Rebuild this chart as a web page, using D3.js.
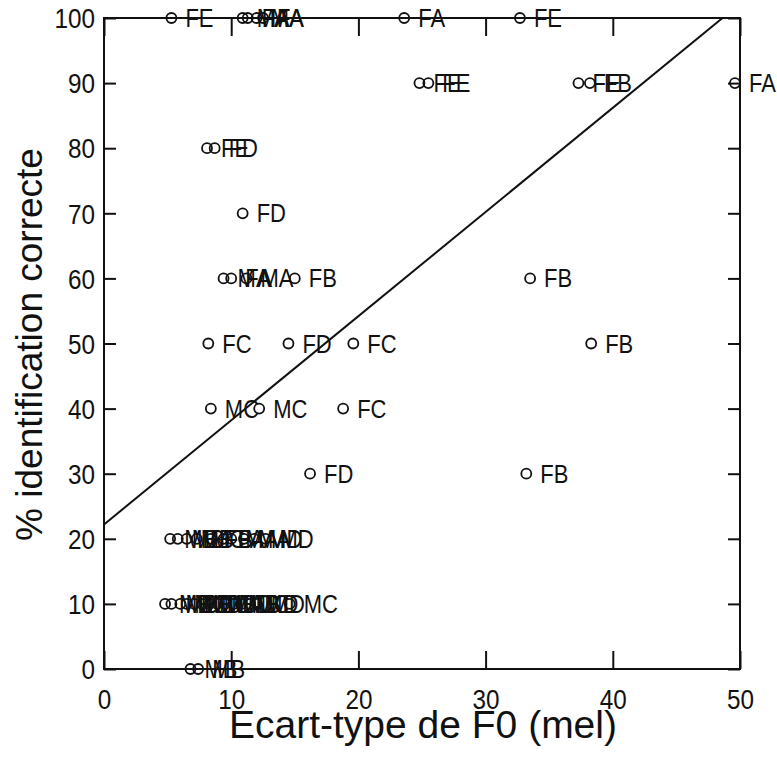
<!DOCTYPE html>
<html><head><meta charset="utf-8">
<script src="https://cdn.jsdelivr.net/npm/d3@7"></script>
<style>body{margin:0;background:#fff}text{font-family:"Liberation Sans",Arial,sans-serif;fill:#111}</style>
</head><body><svg id="c" width="777" height="759"></svg>
<script>
// data
const pointX = [5.3, 10.9, 11.3, 12.0, 12.5, 23.6, 32.7,
  24.8, 25.5, 37.3, 38.2, 49.6,
  8.1, 8.7,
  10.9,
  9.4, 10.0, 11.2, 15.0, 33.5,
  8.2, 14.5, 19.6, 38.3,
  8.4, 12.2, 18.8,
  16.2, 33.2,
  5.2, 5.8, 6.5, 7.3, 8.4, 9.4, 10.0, 11.0, 11.8, 12.7,
  4.8, 5.3, 6.0, 6.5, 7.1, 7.7, 8.3, 8.9, 9.5, 10.2, 10.8, 11.5, 12.0, 14.6,
  6.8, 7.4];
const pointY = [100, 100, 100, 100, 100, 100, 100,
  90, 90, 90, 90, 90,
  80, 80,
  70,
  60, 60, 60, 60, 60,
  50, 50, 50, 50,
  40, 40, 40,
  30, 30,
  20, 20, 20, 20, 20, 20, 20, 20, 20, 20,
  10, 10, 10, 10, 10, 10, 10, 10, 10, 10, 10, 10, 10, 10,
  0, 0];
const pointLabel = ["FE", "MA", "FA", "MA", "FA", "FA", "FE",
  "FE", "FE", "FE", "FB", "FA",
  "FE", "FD",
  "FD",
  "MA", "FA", "MA", "FB", "FB",
  "FC", "FD", "FC", "FB",
  "MC", "MC", "FC",
  "FD", "FB",
  "MB", "MB", "MB", "MC", "FB", "FA", "MA", "MA", "MD", "MD",
  "MB", "MB", "MC", "MB", "MD", "MC", "MB", "MA", "MD", "MB", "MC", "MD", "MD", "MC",
  "MB", "MB"];
const xTicks = [0, 10, 20, 30, 40, 50];
const yTicks = [0, 10, 20, 30, 40, 50, 60, 70, 80, 90, 100];
const regIntercept = 22.2, regSlope = 1.6;
const xTitle = "Ecart-type de F0 (mel)";
const yTitle = "% identification correcte";

const svg = d3.select("#c");
const L = 104, R = 740, T = 18, B = 669;
const x = d3.scaleLinear().domain([0, 50]).range([L, R]);
const y = d3.scaleLinear().domain([0, 100]).range([B, T]);

// frame
svg.append("rect").attr("x", L).attr("y", T).attr("width", R - L).attr("height", B - T)
  .attr("fill", "none").attr("stroke", "#111").attr("stroke-width", 2);

// axes with inward ticks
const gB = svg.append("g").attr("transform", `translate(0,${B})`)
  .call(d3.axisBottom(x).tickValues(xTicks).tickSize(-18).tickPadding(30).tickFormat(d3.format("d")));
const gT = svg.append("g").attr("transform", `translate(0,${T})`)
  .call(d3.axisTop(x).tickValues(xTicks).tickSize(-18).tickFormat(""));
const gL = svg.append("g").attr("transform", `translate(${L},0)`)
  .call(d3.axisLeft(y).tickValues(yTicks).tickSize(-12).tickPadding(10).tickFormat(d3.format("d")));
const gR = svg.append("g").attr("transform", `translate(${R},0)`)
  .call(d3.axisRight(y).tickValues(yTicks).tickSize(-12).tickFormat(""));
[gB, gT, gL, gR].forEach(g => {
  g.select(".domain").remove();
  g.selectAll(".tick line").attr("stroke", "#111").attr("stroke-width", 2);
  g.selectAll(".tick text").attr("font-size", 27).attr("fill", "#111")
    .attr("transform", "scale(0.9,1)")
    .style("font-family", "'Liberation Sans', Arial, sans-serif");
});
gB.selectAll(".tick text").attr("dy", "0.35em").attr("y", 31);
gL.selectAll(".tick text").attr("dy", "0.36em");

// regression line clipped to frame
svg.append("clipPath").attr("id", "clip").append("rect")
  .attr("x", L).attr("y", T).attr("width", R - L).attr("height", B - T);
const xEnd = (100 - regIntercept) / regSlope;
svg.append("line").attr("clip-path", "url(#clip)")
  .attr("x1", x(0)).attr("y1", y(regIntercept))
  .attr("x2", x(xEnd)).attr("y2", y(100))
  .attr("stroke", "#111").attr("stroke-width", 2);

// points
const pts = pointX.map((v, i) => ({x: v, y: pointY[i], label: pointLabel[i]}));
svg.append("g").selectAll("circle").data(pts).join("circle")
  .attr("cx", d => x(d.x)).attr("cy", d => y(d.y)).attr("r", 5)
  .attr("fill", "none").attr("stroke", "#111").attr("stroke-width", 1.8);
svg.append("g").selectAll("text").data(pts).join("text")
  .attr("transform", d => `translate(${x(d.x) + 14},${y(d.y)}) scale(0.88,1)`)
  .attr("dy", "0.36em")
  .attr("font-size", 25).text(d => d.label);

// titles
svg.append("text").attr("x", (L + R) / 2 + 1).attr("y", 738).attr("text-anchor", "middle")
  .attr("font-size", 39).text(xTitle);
svg.append("text").attr("transform", `translate(42,${(T + B) / 2 + 1}) rotate(-90)`)
  .attr("text-anchor", "middle").attr("font-size", 37).text(yTitle);
</script></body></html>
